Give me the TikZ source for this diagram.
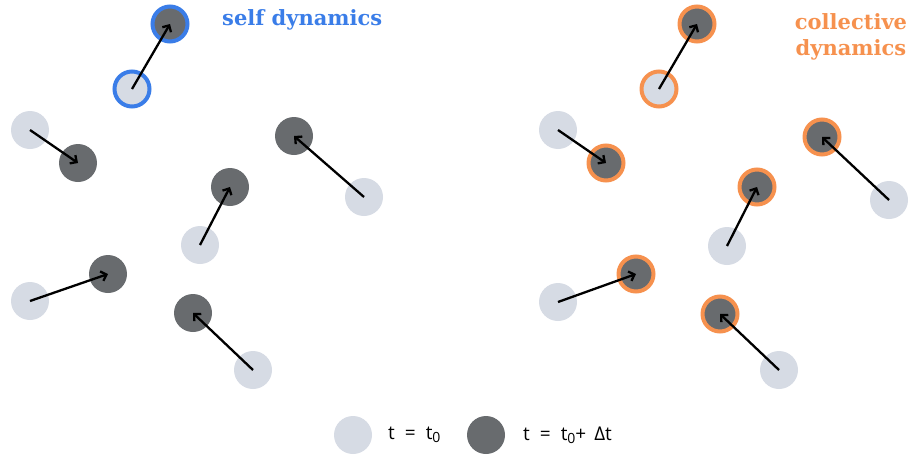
\documentclass[tikz,border=0pt]{standalone}
\usepackage{fontspec}
\setmainfont{DejaVu Serif}
\newfontfamily\legendfont{Open Sans}
\usetikzlibrary{arrows.meta, positioning}

\definecolor{startgray}{RGB}{214,219,228}
\definecolor{endgray}{RGB}{104,107,110}
\definecolor{selfblue}{RGB}{58,125,232}
\definecolor{collorange}{RGB}{246,145,78}

\newcommand{\tsub}{\raisebox{-0.3ex}{\fontsize{14}{14}\selectfont 0}}
\newcommand{\eqgap}{\hspace{10pt}}

\begin{document}
\begin{tikzpicture}[x=1pt, y=-1pt,
  tstart/.style={circle, fill=startgray, minimum size=38pt, inner sep=0pt},
  tend/.style={circle, fill=endgray, minimum size=38pt, inner sep=0pt},
  ring/.style={minimum size=35pt, draw=#1, line width=4pt},
  move/.style={line width=2.3pt, -{Straight Barb[length=5pt, width=10pt]}},
  title/.style={font=\bfseries\fontsize{21}{26}\selectfont, align=center},
  legtext/.style={font=\legendfont\fontsize{19}{21}\selectfont, anchor=west}]

  \useasboundingbox (0,0) rectangle (909,455);

  % self dynamics
  \node[tstart, ring=selfblue] (s1a) at (132,89) {};
  \node[tend, ring=selfblue] (s1b) at (170,24) {};
  \foreach \n/\xa/\ya/\xb/\yb in {2/30/130/78/163, 3/364/197/294/136,
      4/200/245/230/187, 5/30/301/108/274, 6/253/370/193/313} {
    \node[tstart] (s\n a) at (\xa,\ya) {};
    \node[tend] (s\n b) at (\xb,\yb) {};
  }
  \foreach \n in {1,...,6}
    \draw[move] (s\n a.center) -- (s\n b.center);
  \node[title, text=selfblue, anchor=base west, inner sep=0pt] (selft) at (222,25) {self dynamics};

  % collective dynamics
  \node[title, text=collorange] (collt) at (851,37) {collective\\dynamics};
  \node[tstart, ring=collorange] (c1a) at (659,89) {};
  \node[tend, ring=collorange] (c1b) at (697,24) {};
  \foreach \n/\xa/\ya/\xb/\yb in {2/558/130/606/163, 3/889/200/822/137,
      4/727/246/757/187, 5/558/302/636/274, 6/779/370/720/314} {
    \node[tstart] (c\n a) at (\xa,\ya) {};
    \node[tend, ring=collorange] (c\n b) at (\xb,\yb) {};
  }
  \foreach \n in {1,...,6}
    \draw[move] (c\n a.center) -- (c\n b.center);

  % legend
  \node[tstart] (legstart) at (353,435) {};
  \node[legtext, inner sep=0pt] (legstartt) at (388,435) {t\eqgap=\eqgap t\tsub};
  \node[tend] (legend) at (486,435) {};
  \node[legtext, inner sep=0pt] (legendt) at (523,435) {t\eqgap=\eqgap t\tsub+\hspace{8pt}Δt};

\end{tikzpicture}
\end{document}
